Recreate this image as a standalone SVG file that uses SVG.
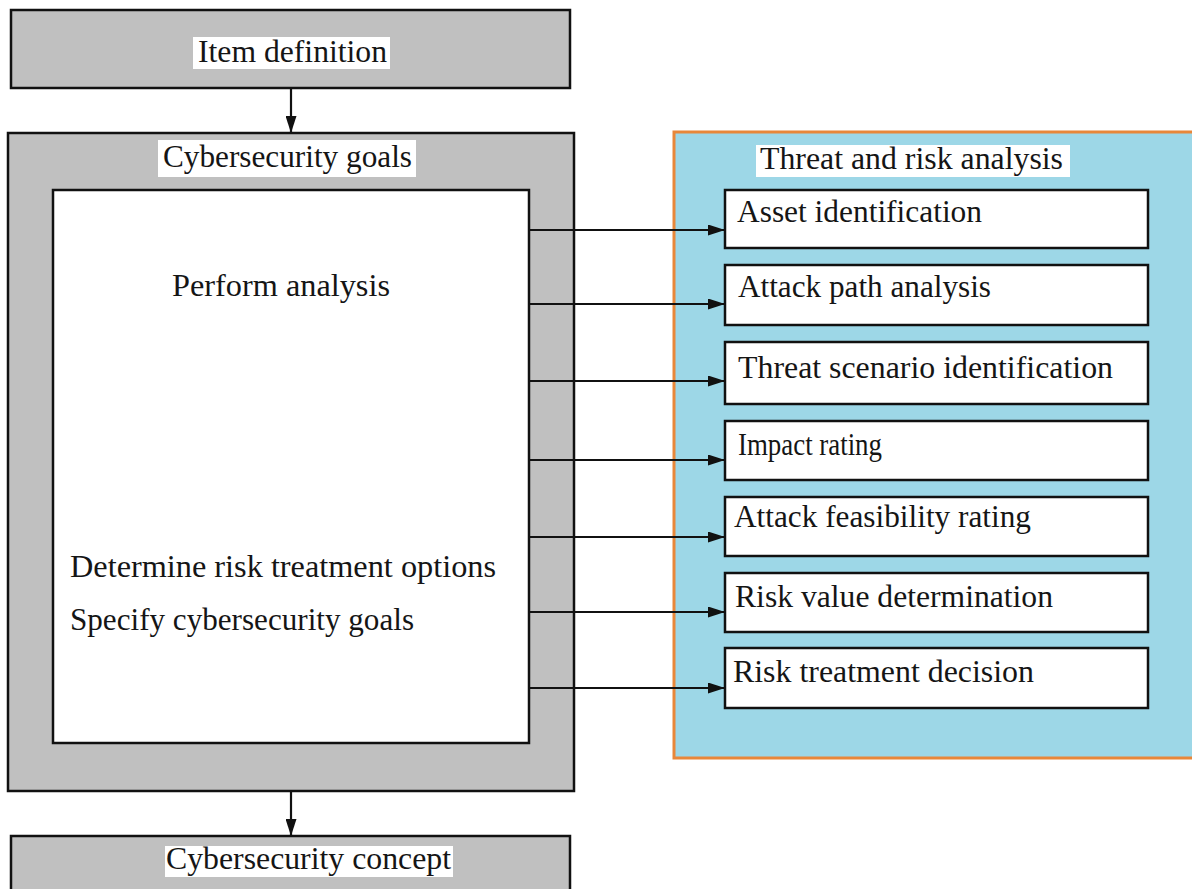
<svg xmlns="http://www.w3.org/2000/svg" width="1192" height="889" viewBox="0 0 1192 889">
  <style>
    .gray { fill: #c0c0c0; stroke: #111; stroke-width: 2.5; }
    .white { fill: #ffffff; stroke: #111; stroke-width: 2.5; }
    .step { fill: #ffffff; stroke: #111; stroke-width: 2.5; }
    .panel { fill: #9dd7e7; stroke: #e8873a; stroke-width: 3; }
    .bg { fill: #ffffff; stroke: none; }
    .t { font-family: "Liberation Serif", "Times New Roman", serif; font-size: 31px; fill: #151515; }
    .link { stroke: #111; stroke-width: 2.2; fill: none; marker-end: url(#arrow); }
  </style>
  <defs>
    <marker id="arrow" markerWidth="17" markerHeight="11" refX="17" refY="5.5" orient="auto" markerUnits="userSpaceOnUse">
      <path d="M0,0 L17,5.5 L0,11 Z" fill="#111"/>
    </marker>
  </defs>

  <rect width="1192" height="889" fill="#ffffff"/>

  <!-- Item definition -->
  <g id="item-definition">
    <rect class="gray" x="11" y="10" width="559" height="78"/>
    <rect class="bg" x="193" y="37" width="197" height="32"/>
    <text class="t" x="198" y="62" textLength="189" lengthAdjust="spacingAndGlyphs">Item definition</text>
  </g>

  <!-- Cybersecurity goals (outer frame with inner activity box) -->
  <g id="cybersecurity-goals">
    <rect class="gray" x="8" y="133" width="566" height="658"/>
    <rect class="bg" x="158" y="140" width="258" height="37"/>
    <text class="t" x="163" y="167" textLength="249" lengthAdjust="spacingAndGlyphs">Cybersecurity goals</text>
    <rect class="white" x="53" y="190" width="476" height="553"/>
    <text class="t" x="172" y="296" textLength="218" lengthAdjust="spacingAndGlyphs">Perform analysis</text>
    <text class="t" x="70" y="577" textLength="426" lengthAdjust="spacingAndGlyphs">Determine risk treatment options</text>
    <text class="t" x="70" y="630" textLength="344" lengthAdjust="spacingAndGlyphs">Specify cybersecurity goals</text>
  </g>

  <!-- Threat and risk analysis panel -->
  <g id="tara">
    <rect class="panel" x="674" y="132" width="540" height="626"/>
    <rect class="bg" x="756" y="145" width="314" height="32"/>
    <text class="t" x="760" y="169" textLength="303" lengthAdjust="spacingAndGlyphs">Threat and risk analysis</text>
  </g>

  <g id="asset-identification">
    <rect class="step" x="725" y="190" width="423" height="58"/>
    <text class="t" x="737" y="222" textLength="245" lengthAdjust="spacingAndGlyphs">Asset identification</text>
  </g>
  <g id="attack-path-analysis">
    <rect class="step" x="725" y="265" width="423" height="60"/>
    <text class="t" x="738" y="297" textLength="253" lengthAdjust="spacingAndGlyphs">Attack path analysis</text>
  </g>
  <g id="threat-scenario-identification">
    <rect class="step" x="725" y="342" width="423" height="62"/>
    <text class="t" x="738" y="378" textLength="375" lengthAdjust="spacingAndGlyphs">Threat scenario identification</text>
  </g>
  <g id="impact-rating">
    <rect class="step" x="725" y="421" width="423" height="59"/>
    <text class="t" x="738" y="455" textLength="144" lengthAdjust="spacingAndGlyphs">Impact rating</text>
  </g>
  <g id="attack-feasibility-rating">
    <rect class="step" x="725" y="497" width="423" height="59"/>
    <text class="t" x="734" y="527" textLength="297" lengthAdjust="spacingAndGlyphs">Attack feasibility rating</text>
  </g>
  <g id="risk-value-determination">
    <rect class="step" x="725" y="573" width="423" height="59"/>
    <text class="t" x="735" y="607" textLength="318" lengthAdjust="spacingAndGlyphs">Risk value determination</text>
  </g>
  <g id="risk-treatment-decision">
    <rect class="step" x="725" y="648" width="423" height="60"/>
    <text class="t" x="733" y="682" textLength="301" lengthAdjust="spacingAndGlyphs">Risk treatment decision</text>
  </g>

  <!-- Cybersecurity concept -->
  <g id="cybersecurity-concept">
    <rect class="gray" x="11" y="836" width="559" height="70"/>
    <rect class="bg" x="165" y="846" width="288" height="31"/>
    <text class="t" x="166" y="869" textLength="285" lengthAdjust="spacingAndGlyphs">Cybersecurity concept</text>
  </g>

  <!-- Connectors -->
  <g id="connectors">
    <line class="link" x1="291" y1="88" x2="291" y2="133"/>
    <line class="link" x1="291" y1="791" x2="291" y2="836"/>
    <line class="link" x1="529" y1="230" x2="725" y2="230"/>
    <line class="link" x1="529" y1="304" x2="725" y2="304"/>
    <line class="link" x1="529" y1="381" x2="725" y2="381"/>
    <line class="link" x1="529" y1="460" x2="725" y2="460"/>
    <line class="link" x1="529" y1="537" x2="725" y2="537"/>
    <line class="link" x1="529" y1="612" x2="725" y2="612"/>
    <line class="link" x1="529" y1="688" x2="725" y2="688"/>
  </g>
</svg>
